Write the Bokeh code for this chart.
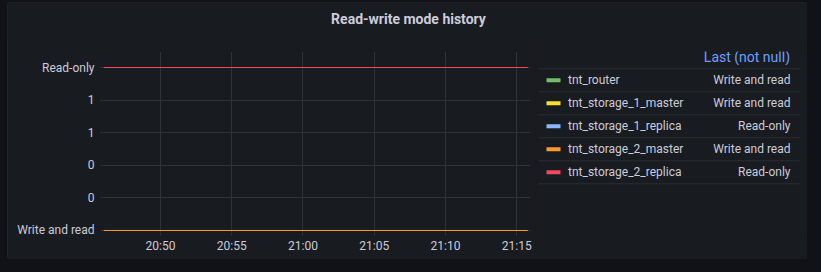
import pandas as pd
from bokeh.plotting import figure
from bokeh.layouts import row, column
from bokeh.models import (Range1d, FixedTicker, DatetimeTickFormatter,
                          CustomJSTickFormatter, ColumnDataSource)
from bokeh.core.properties import value
from bokeh.embed import file_html
from bokeh.resources import INLINE

# ---- data -------------------------------------------------------------
TITLE = "Read-write mode history"
LEGEND_HEADER = "Last (not null)"

SERIES = ["tnt_router", "tnt_storage_1_master", "tnt_storage_1_replica",
          "tnt_storage_2_master", "tnt_storage_2_replica"]
COLORS = ["#73bf69", "#fade2a", "#8ab8ff", "#ff9830", "#f2495c"]

# value mapping of the mode metric: 0 -> writable master, 1 -> replica
STATE_LABELS = ["Write and read", "Read-only"]

TIMES = ["2021-06-01 20:46:00", "2021-06-01 21:15:45"]
tnt_router = [0, 0]
tnt_storage_1_master = [0, 0]
tnt_storage_1_replica = [1, 1]
tnt_storage_2_master = [0, 0]
tnt_storage_2_replica = [1, 1]
SERIES_VALUES = [tnt_router, tnt_storage_1_master, tnt_storage_1_replica,
                 tnt_storage_2_master, tnt_storage_2_replica]

DAY = "2021-06-01"
X_START = "20:46:00"
X_END = "21:15:58"
X_TICKS = ["20:50", "20:55", "21:00", "21:05", "21:10", "21:15"]
Y_TICKS = [0, 0.2, 0.4, 0.6, 0.8, 1]

# ---- theme ------------------------------------------------------------
PAGE_BG = "#111217"
PANEL_BG = "#181b1f"
PANEL_EDGE = "#25282d"
GRID = "#2f3237"
ROW_SEP = "#2a2d32"
TEXT = "#ccccdc"
LINK = "#6e9fff"
FONT = "Roboto"

# shared vertical borders so the chart and legend frames line up in the row
BORDER_TOP = 11
BORDER_BOTTOM = 27
BODY_H = 219


def ms(ts):
    return pd.Timestamp(ts).value / 1e6


# ---- time series chart -----------------------------------------------
src = ColumnDataSource({"t": pd.to_datetime(TIMES),
                        **{name: vals for name, vals in zip(SERIES, SERIES_VALUES)}})

chart = figure(width=529, height=BODY_H, x_axis_type="datetime",
               x_range=Range1d(ms(f"{DAY} {X_START}"), ms(f"{DAY} {X_END}")),
               y_range=Range1d(-0.0123, 1.0982),
               output_backend="svg", toolbar_location=None,
               min_border_left=96, min_border_right=6,
               min_border_top=BORDER_TOP, min_border_bottom=BORDER_BOTTOM)
chart.background_fill_color = PANEL_BG
chart.border_fill_color = PANEL_BG
chart.outline_line_color = None

for name, color in zip(SERIES, COLORS):
    chart.line("t", name, source=src, line_color=color, line_width=1)

chart.xaxis.ticker = FixedTicker(ticks=[ms(f"{DAY} {t}") for t in X_TICKS])
chart.xaxis.formatter = DatetimeTickFormatter(minutes="%H:%M", hours="%H:%M",
                                              hourmin="%H:%M", minsec="%H:%M")
chart.yaxis.ticker = FixedTicker(ticks=Y_TICKS)
chart.yaxis.formatter = CustomJSTickFormatter(args=dict(labels=STATE_LABELS), code="""
    const r = Math.round(tick);
    if (Math.abs(tick - r) < 1e-9) return labels[r];
    return r.toFixed(0);
""")

for ax in (chart.xaxis, chart.yaxis):
    ax.axis_line_color = None
    ax.major_tick_line_color = GRID
    ax.major_tick_in = 0
    ax.major_tick_out = 3
    ax.minor_tick_line_color = None
    ax.major_label_text_font = FONT
    ax.major_label_text_font_size = "12px"
    ax.major_label_text_color = TEXT
chart.xaxis.major_label_standoff = 3
chart.yaxis.major_label_standoff = 6

chart.xgrid.grid_line_color = GRID
chart.ygrid.grid_line_color = GRID

# ---- legend table -----------------------------------------------------
# row 0 is the header, rows 1..n the series; one row is 23 px tall
frame_h = BODY_H - BORDER_TOP - BORDER_BOTTOM
row_px = 23.0
first = -5.8 / row_px
rows = list(range(1, len(SERIES) + 1))
legend = figure(width=271, height=BODY_H, x_range=Range1d(0, 271),
                y_range=Range1d(first + frame_h / row_px, first),
                output_backend="svg", toolbar_location=None,
                x_axis_type=None, y_axis_type=None,
                min_border_left=0, min_border_right=0,
                min_border_top=BORDER_TOP, min_border_bottom=BORDER_BOTTOM)
legend.background_fill_color = PANEL_BG
legend.border_fill_color = PANEL_BG
legend.outline_line_color = None
legend.grid.grid_line_color = None

seps = [r - 0.5 for r in rows] + [rows[-1] + 0.5]
legend.segment(x0=2, x1=263, y0=seps, y1=seps, line_color=ROW_SEP, line_width=1)
legend.rect(x=17, y=rows, width=14, height=4, height_units="screen",
            fill_color=COLORS, line_color=None)
legend.text(x=31.5, y=rows, text=SERIES, text_align="left", text_baseline="middle",
            text_font=value(FONT), text_font_size="12px", text_color=TEXT)
last_values = [STATE_LABELS[int(vals[-1])] for vals in SERIES_VALUES]
legend.text(x=254, y=rows, text=last_values, text_align="right", text_baseline="middle",
            text_font=value(FONT), text_font_size="12px", text_color=TEXT)
legend.text(x=253.5, y=[0], text=[LEGEND_HEADER], text_align="right",
            text_baseline="middle", text_font=value(FONT), text_font_size="14px",
            text_color=LINK)

# ---- panel title ------------------------------------------------------
head = figure(width=800, height=38, x_range=Range1d(0, 800), y_range=Range1d(38, 0),
              output_backend="svg", toolbar_location=None,
              x_axis_type=None, y_axis_type=None, min_border=0)
head.background_fill_color = PANEL_BG
head.border_fill_color = PANEL_BG
head.outline_line_color = None
head.grid.grid_line_color = None
head.text(x=[401], y=[16], text=[TITLE], text_align="center", text_baseline="middle",
          text_font=value(FONT), text_font_size="14px", text_font_style="bold",
          text_color=TEXT)

panel = column(head, row(chart, legend), margin=(2, 0, 0, 7),
               styles={"background-color": PANEL_BG,
                       "outline": f"1px solid {PANEL_EDGE}",
                       "outline-offset": "-1px",
                       "border-radius": "3px"})
page = column(panel, width=821, height=272, styles={"background-color": PAGE_BG})

open("out.html", "w").write(file_html(page, INLINE))
